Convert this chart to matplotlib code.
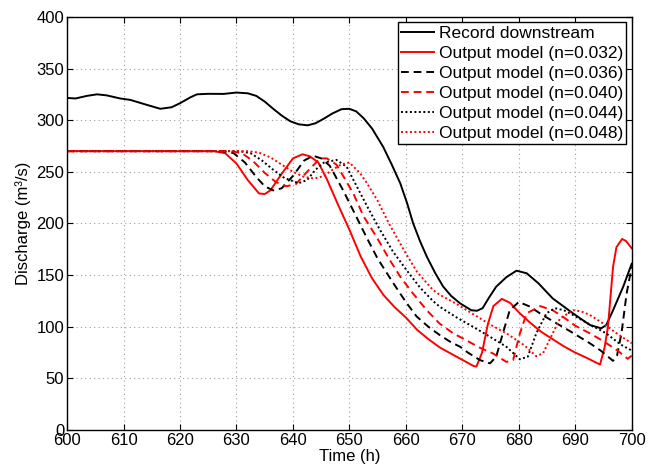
import numpy as np
import matplotlib
matplotlib.use("Agg")
import matplotlib.pyplot as plt

plt.rcParams['font.family'] = ['Liberation Sans', 'DejaVu Sans']
plt.rcParams['font.size'] = 12

# registro aguas abajo
t_rec = [600, 601.5, 603.5, 605.3, 607, 609.4, 611.2, 614, 616.5, 618.5, 620, 621.8, 623,
         625, 627.7, 630, 632, 633.5, 635, 636.5, 638, 639.5, 641, 642.6, 644, 645.5,
         647, 648.6, 650, 651.2, 652.5, 654, 656, 657.5, 659, 660.2, 661.3, 662.5, 663.7,
         665.2, 666.6, 668, 669.6, 671.6, 672.6, 673.6, 674.7, 676, 677.8, 679.6, 681.4,
         683.5, 686, 689.6, 692.6, 694.6, 695.5, 696.7, 698.5, 700]
q_rec = [321.5, 321, 323.5, 325, 324, 321, 319.6, 315, 311, 312.5, 316.4, 322, 325,
         325.5, 325.4, 326.7, 326, 323.5, 318, 311, 304.5, 299, 296, 295, 297, 301.5,
         306.5, 310.6, 311, 308.5, 302, 292, 274, 257, 239, 220, 200, 183, 168,
         152, 139, 130, 122.7, 116, 115.5, 118, 128, 138.8, 148, 154.3, 151.8,
         142, 127.5, 113, 101.7, 98.5, 101.7, 116, 138.8, 161]

# modelo n=0.032
t_032 = [600, 626, 628, 630, 632, 634, 635, 636, 638, 640, 641.7, 643, 644.5, 646, 648,
         650, 652, 654, 656, 658, 660, 662, 664, 666, 668, 670, 672, 672.5, 673.5, 674.5,
         675.5, 677, 678.5, 680, 682, 684, 686, 688, 690, 692, 694, 694.4, 695.2, 695.8,
         696.7, 697.3, 698.3, 699, 700]
q_032 = [270, 270, 268, 258, 242, 229, 228.5, 232, 248, 263, 267, 265, 259, 243, 218,
         194, 168, 147, 131, 119, 109, 97, 88, 80, 74, 68, 62, 61.5, 75, 102,
         120, 127, 123, 114, 104, 95, 88, 81, 75, 70, 64.5, 63.5, 80, 100,
         158, 177, 185, 183, 176]

# modelo n=0.036
t_036 = [600, 627.5, 629.5, 631.5, 633.5, 635, 636.5, 638, 640, 642, 643.6, 645, 646.5,
         648.9, 650, 652, 653, 655, 657.8, 660, 661.9, 664, 666, 668, 669.6, 671, 673.1,
         674.9, 676, 677.2, 678.4, 680, 682, 684, 686.7, 689, 692.6, 694.5, 696.7, 697.4,
         698.2, 699.1, 700]
q_036 = [270, 270, 268, 259, 245, 236, 232, 234, 246, 261, 265.5, 263, 256,
         232, 220, 198, 187, 166, 142, 124, 110, 100, 92, 85, 80.7, 75, 67.8,
         64.6, 71, 94, 116, 124, 119.5, 112, 103.3, 96, 84, 77, 67, 72,
         94, 132, 158]

# modelo n=0.040
t_040 = [600, 629, 631, 633, 635, 637, 638.8, 640.5, 642.5, 644.8, 646, 647.7, 649,
         650.7, 652.5, 654.8, 657, 659, 661, 663.7, 666, 668.4, 670.7, 673, 675.5,
         677.8, 679, 680.2, 681.4, 683.8, 686, 688, 690, 692.6, 695, 697.5, 699.3, 700]
q_040 = [270, 270, 268, 260, 249, 240, 236, 238, 250, 263, 263, 257, 245,
         229, 207, 187, 166, 148.5, 134, 116, 103, 93.6, 87, 80, 74,
         66, 67.8, 93.6, 113, 120, 116, 109, 101, 93.6, 86, 77, 69, 72]

# modelo n=0.044
t_044 = [600, 630.5, 632.5, 634.5, 636.5, 638.5, 641, 642.5, 644, 645.5, 647.7, 649.5,
         651.3, 653.3, 655.4, 657.7, 660.1, 662.5, 664.8, 666, 669, 671.9, 675, 677.8,
         680.2, 681.6, 683.1, 684.9, 686.4, 688, 689.6, 692, 695.5, 698, 700]
q_044 = [270, 270, 268, 261, 252, 244, 239, 242, 252, 259, 261.5, 255,
         236, 215, 194, 173, 155, 138, 125, 119.4, 109, 100, 90, 80.7,
         68.5, 71, 93.6, 113, 118, 116, 111.4, 104, 93.6, 83, 77]

# modelo n=0.048
t_048 = [600, 632, 634, 636, 638, 640, 642, 643.8, 645.5, 647, 648.5, 650, 651.9, 653,
         655, 657, 660, 662, 664.8, 666, 669, 672, 675, 678, 681, 683.1, 684.3, 686,
         687.3, 689.6, 691, 692.6, 695, 697.5, 700]
q_048 = [270, 270, 268.5, 264, 257, 250, 245, 243.5, 246, 252, 257, 259, 248.6, 240,
         222, 200, 171, 153, 135.6, 131, 122, 112, 102, 93, 82, 71.5, 74.3, 93.6,
         108, 116, 115, 111.4, 103, 93, 84]

fig = plt.figure(figsize=(6.58, 4.68), dpi=100)
ax = fig.add_axes([0.102, 0.081, 0.858, 0.883])

lw = 1.4
ax.plot(t_rec, q_rec, '-', color='black', lw=lw, label='Record downstream')
ax.plot(t_032, q_032, '-', color='red', lw=lw, label='Output model (n=0.032)')
ax.plot(t_036, q_036, color='black', lw=lw, linestyle=(0, (4, 2.5)), label='Output model (n=0.036)')
ax.plot(t_040, q_040, color='red', lw=lw, linestyle=(0, (4, 2.5)), label='Output model (n=0.040)')
ax.plot(t_044, q_044, color='black', lw=lw, linestyle=(0, (1, 1.3)), label='Output model (n=0.044)')
ax.plot(t_048, q_048, color='red', lw=lw, linestyle=(0, (1, 1.3)), label='Output model (n=0.048)')

ax.set_xlim(600, 700)
ax.set_ylim(0, 400)
ax.set_xticks(np.arange(600, 701, 10))
ax.set_yticks(np.arange(0, 401, 50))
ax.tick_params(direction='in', top=True, right=True, length=4, pad=2)
for s in ax.spines.values():
    s.set_linewidth(1.0)
ax.grid(True, linestyle=(0, (1, 3)), color='#a0a0a0', lw=0.8)
ax.set_xlabel('Time (h)', labelpad=1)
ax.set_ylabel('Discharge (m³/s)', labelpad=4)

leg = ax.legend(loc='upper right', fontsize=12.5, handlelength=1.9, handletextpad=0.25,
                labelspacing=0.28, borderpad=0.2, borderaxespad=0.3,
                fancybox=False, framealpha=1, edgecolor='black')
leg.get_frame().set_linewidth(1.0)

plt.savefig('out.png', dpi=100)
